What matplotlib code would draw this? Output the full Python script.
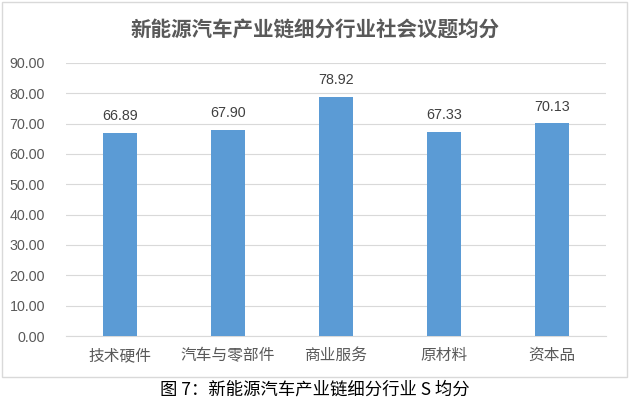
import matplotlib
matplotlib.use("Agg")
import matplotlib.pyplot as plt
from matplotlib.patches import Rectangle

plt.rcParams['font.family'] = ['Noto Sans CJK SC', 'DejaVu Sans']

categories = ["技术硬件", "汽车与零部件", "商业服务", "原材料", "资本品"]
values = [66.89, 67.90, 78.92, 67.33, 70.13]
yticks = [0, 10, 20, 30, 40, 50, 60, 70, 80, 90]
title = "新能源汽车产业链细分行业社会议题均分"
caption = "图 7：新能源汽车产业链细分行业 S 均分"

W, H = 630, 403
fig = plt.figure(figsize=(W / 100, H / 100), dpi=100)
fig.patch.set_facecolor("white")

# outer chart frame
fig.patches.append(Rectangle((2 / W, 1 - 377 / H), 625 / W, 375 / H,
                             transform=fig.transFigure, fill=False,
                             edgecolor="#D9D9D9", linewidth=1.0))

ax = fig.add_axes([66 / W, 1 - 336 / H, 540 / W, (336 - 63) / H])
x = list(range(len(categories)))
bars = ax.bar(x, values, width=0.32, color="#5B9BD5", zorder=3)
ax.set_xlim(-0.5, len(categories) - 0.5)
ax.set_ylim(0, 90)
ax.set_yticks(yticks)
ax.set_yticklabels([f"{v:.2f}" for v in yticks], fontsize=10.3, color="#595959",
                   family=["Liberation Sans", "DejaVu Sans"])
ax.set_xticks(x)
ax.set_xticklabels(categories, fontsize=11.3, color="#595959")
ax.tick_params(axis="both", length=0)
ax.tick_params(axis="y", pad=15)
ax.tick_params(axis="x", pad=8)
ax.grid(axis="y", color="#D9D9D9", linewidth=0.8, zorder=0)
for s in ["top", "right", "left"]:
    ax.spines[s].set_visible(False)
ax.spines["bottom"].set_color("#D9D9D9")
ax.spines["bottom"].set_linewidth(0.8)

for b, v in zip(bars, values):
    ax.annotate(f"{v:.2f}", (b.get_x() + b.get_width() / 2, v),
                xytext=(0, 7), textcoords="offset points",
                ha="center", va="bottom", fontsize=10.3, color="#404040",
                family=["Liberation Sans", "DejaVu Sans"])

fig.text(0.5, 1 - 30 / H, title, ha="center", va="center",
         fontsize=14.8, fontweight="bold", color="#595959")
fig.text(0.5, 1 - 390 / H, caption, ha="center", va="center",
         fontsize=12.5, color="#000000")

fig.savefig("out.png", dpi=100)
